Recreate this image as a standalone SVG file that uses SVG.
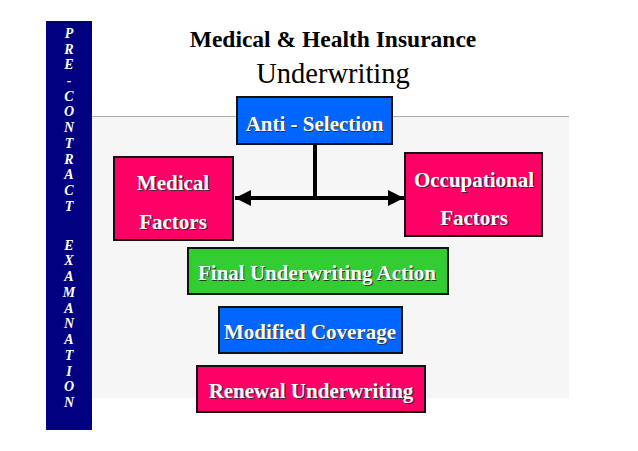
<svg xmlns="http://www.w3.org/2000/svg" width="638" height="451" viewBox="0 0 638 451">
<defs>
<style>
.box{stroke:#111;stroke-width:2}
.blue{fill:#0066ff}
.pink{fill:#ff0066}
.green{fill:#33cc33}
.t{font-family:"Liberation Serif",serif;font-weight:bold;font-size:21px;text-anchor:middle;fill:#fff}
.sh{font-family:"Liberation Serif",serif;font-weight:bold;font-size:21px;text-anchor:middle;fill:#333}
.side{font-family:"Liberation Serif",serif;font-weight:bold;font-style:italic;font-size:14px;text-anchor:middle;fill:#fff}
.h1{font-family:"Liberation Serif","Times New Roman",serif;font-weight:bold;font-size:23.5px;text-anchor:middle;fill:#000}
.h2{font-family:"Liberation Serif","Times New Roman",serif;font-weight:normal;font-size:28.5px;text-anchor:middle;fill:#000}
.conn{stroke:#000;stroke-width:4;fill:none}
</style>
<marker id="ah" viewBox="0 0 10 10" refX="10" refY="5" markerWidth="4" markerHeight="4" orient="auto-start-reverse" markerUnits="strokeWidth">
<path d="M0,0 L10,5 L0,10 Z" fill="#000"/>
</marker>
</defs>
<rect width="638" height="451" fill="#fff"/>
<rect x="92" y="116" width="477" height="282" fill="#f6f6f6"/>
<line x1="92" y1="116.5" x2="569" y2="116.5" stroke="#aaa" stroke-width="1"/>
<g id="sidebar">
<rect x="46" y="21" width="46" height="409" fill="#000080"/>
<text class="side" x="69" y="38">P</text>
<text class="side" x="69" y="54">R</text>
<text class="side" x="69" y="69">E</text>
<text class="side" x="69" y="85">-</text>
<text class="side" x="69" y="101">C</text>
<text class="side" x="69" y="116">O</text>
<text class="side" x="69" y="132">N</text>
<text class="side" x="69" y="148">T</text>
<text class="side" x="69" y="164">R</text>
<text class="side" x="69" y="179">A</text>
<text class="side" x="69" y="195">C</text>
<text class="side" x="69" y="211">T</text>
<text class="side" x="69" y="250">E</text>
<text class="side" x="69" y="265">X</text>
<text class="side" x="69" y="281">A</text>
<text class="side" x="69" y="297">M</text>
<text class="side" x="69" y="313">A</text>
<text class="side" x="69" y="328">N</text>
<text class="side" x="69" y="344">A</text>
<text class="side" x="69" y="360">T</text>
<text class="side" x="69" y="376">I</text>
<text class="side" x="69" y="391">O</text>
<text class="side" x="69" y="407">N</text>
</g>
<g id="title">
<text class="h1" x="333" y="47">Medical &amp; Health Insurance</text>
<text class="h2" x="333" y="83">Underwriting</text>
</g>
<g id="connectors">
<line class="conn" x1="315" y1="144" x2="315" y2="198"/>
<line class="conn" x1="315" y1="198" x2="235" y2="198" marker-end="url(#ah)"/>
<line class="conn" x1="315" y1="198" x2="404" y2="198" marker-end="url(#ah)"/>
</g>
<g id="anti-selection">
<rect class="box blue" x="237" y="97" width="155" height="47"/>
<text class="sh" x="315.5" y="132">Anti - Selection</text>
<text class="t" x="314.5" y="131">Anti - Selection</text>
</g>
<g id="medical-factors">
<rect class="box pink" x="114" y="157" width="119" height="83"/>
<text class="sh" x="174" y="191">Medical</text>
<text class="t" x="173" y="190">Medical</text>
<text class="sh" x="174" y="230">Factors</text>
<text class="t" x="173" y="229">Factors</text>
</g>
<g id="occupational-factors">
<rect class="box pink" x="405" y="153" width="137" height="83"/>
<text class="sh" x="475" y="188">Occupational</text>
<text class="t" x="474" y="187">Occupational</text>
<text class="sh" x="475" y="226">Factors</text>
<text class="t" x="474" y="225">Factors</text>
</g>
<g id="final-underwriting-action">
<rect class="box green" x="188" y="248" width="260" height="46"/>
<text class="sh" x="318" y="281">Final Underwriting Action</text>
<text class="t" x="317" y="280">Final Underwriting Action</text>
</g>
<g id="modified-coverage">
<rect class="box blue" x="219" y="307" width="183" height="46"/>
<text class="sh" x="311" y="340">Modified Coverage</text>
<text class="t" x="310" y="339">Modified Coverage</text>
</g>
<g id="renewal-underwriting">
<rect class="box pink" x="197" y="366" width="228" height="46"/>
<text class="sh" x="312" y="399">Renewal Underwriting</text>
<text class="t" x="311" y="398">Renewal Underwriting</text>
</g>
</svg>
